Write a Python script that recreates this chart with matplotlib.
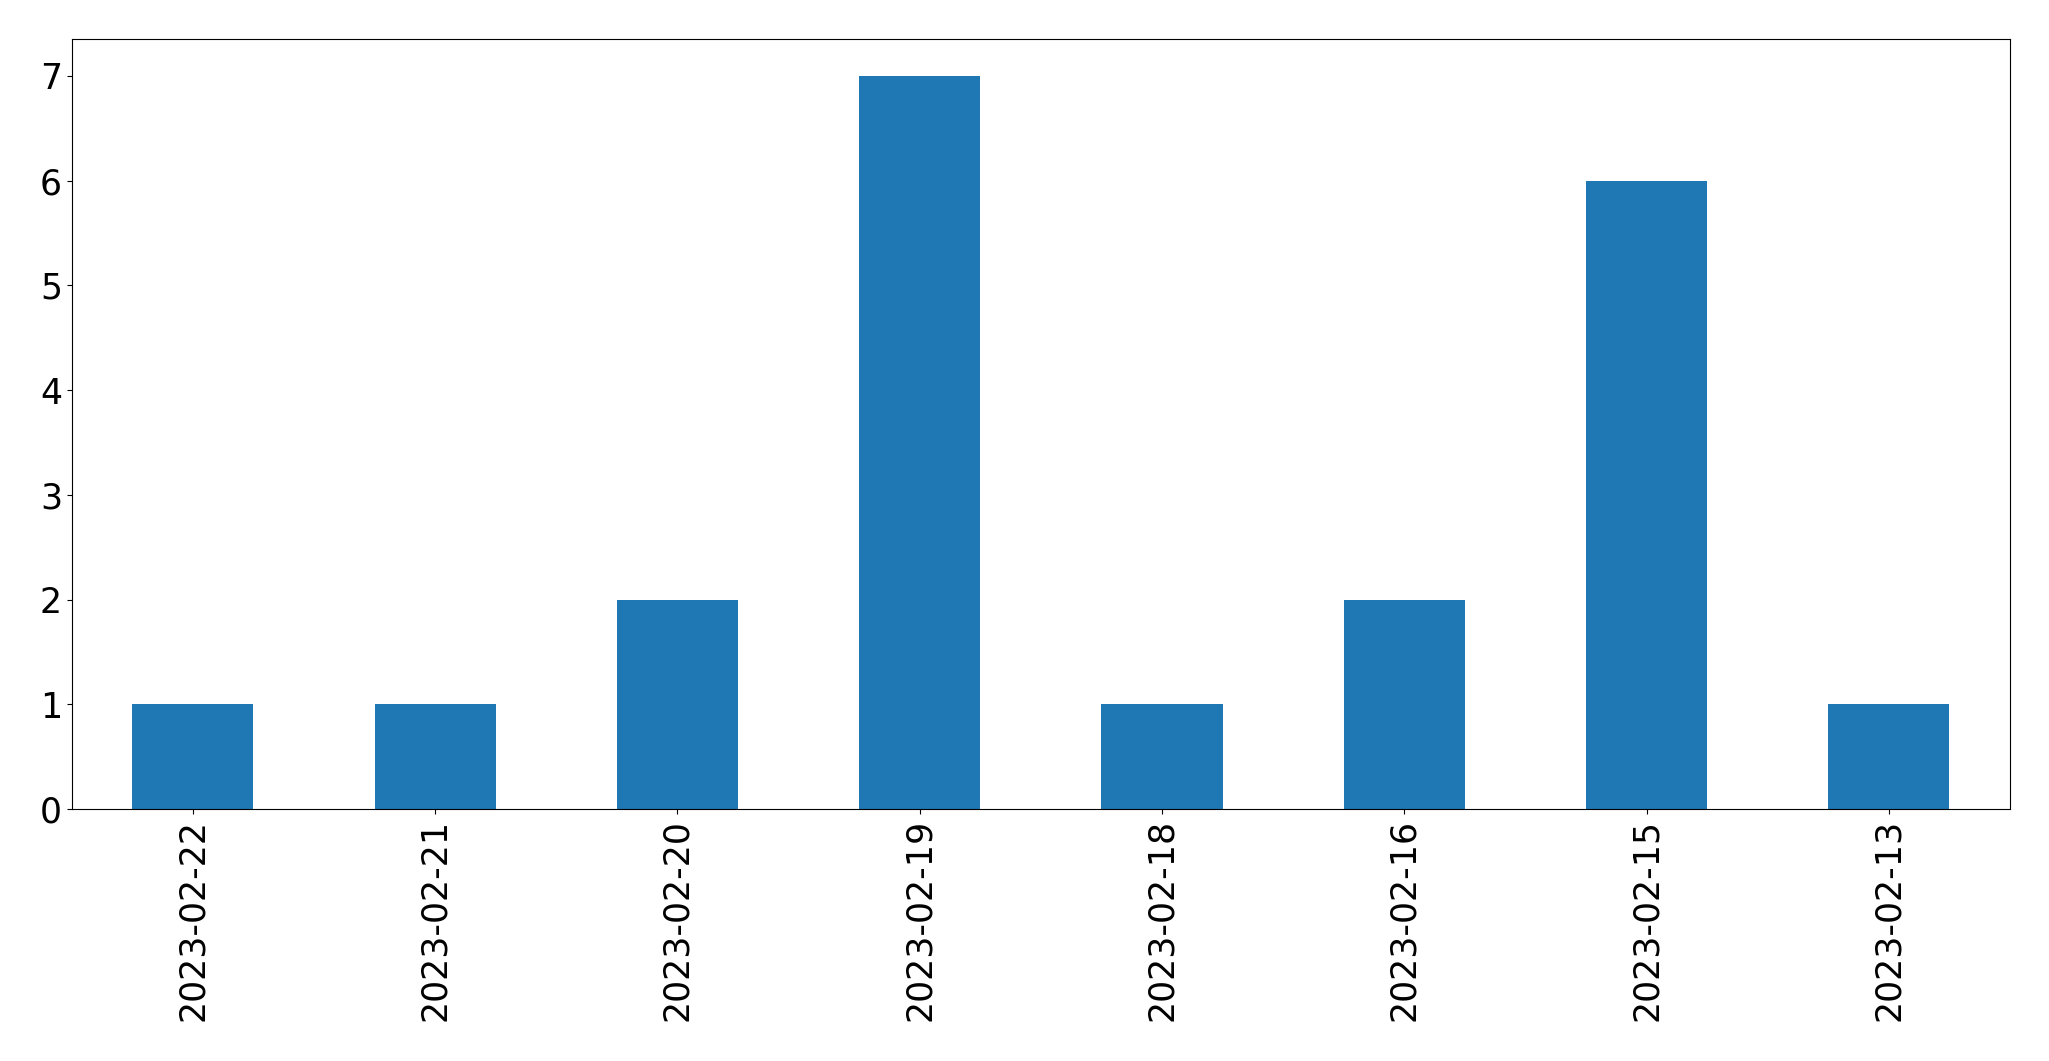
import matplotlib
matplotlib.use("Agg")
import matplotlib.pyplot as plt
import pandas as pd

dates = ["2023-02-22", "2023-02-21", "2023-02-20", "2023-02-19",
         "2023-02-18", "2023-02-16", "2023-02-15", "2023-02-13"]
counts = [1, 1, 2, 7, 1, 2, 6, 1]

s = pd.Series(counts, index=dates)

fig, ax = plt.subplots(figsize=(20.49, 10.61), dpi=100)
s.plot(kind="bar", ax=ax, color="#1f77b4", width=0.5)
ax.tick_params(axis="both", labelsize=25)
fig.subplots_adjust(left=0.035, right=0.981, top=0.963, bottom=0.2375)
fig.savefig("out.png", dpi=100)
